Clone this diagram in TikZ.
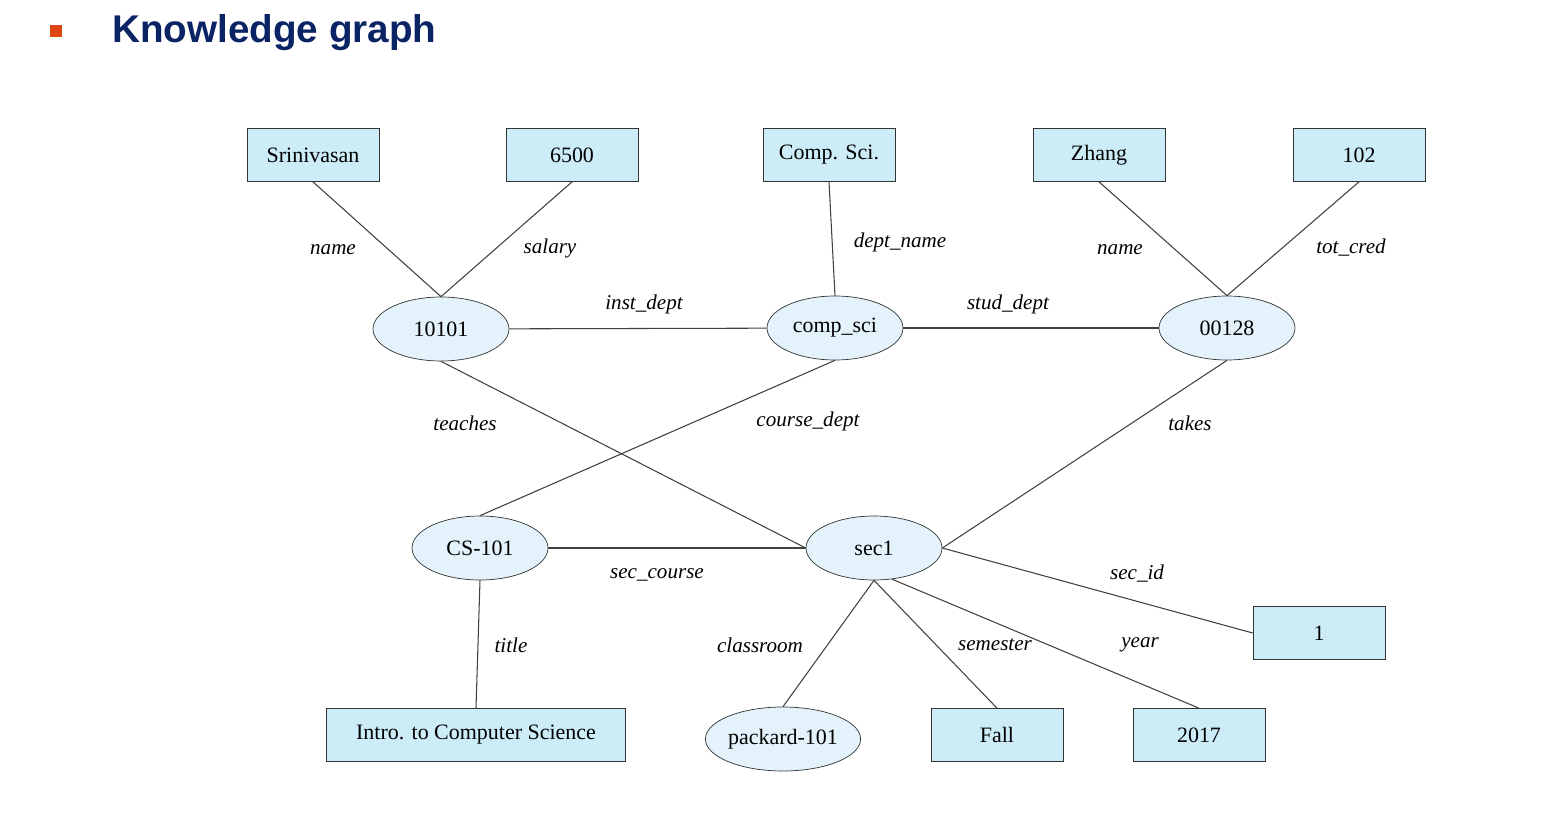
\documentclass[tikz,border=0pt]{standalone}
\usepackage{fontspec}
\setmainfont{Liberation Serif}
\newfontfamily\titlefont{Liberation Sans}
\usetikzlibrary{shapes.geometric}
\definecolor{boxblue}{RGB}{204,236,248}
\definecolor{ellblue}{RGB}{228,243,251}
\definecolor{navy}{RGB}{10,35,100}
\definecolor{bullet}{RGB}{222,70,20}
\tikzset{
  lit/.style={draw=black!80,fill=boxblue,minimum width=2.64cm,minimum height=1.06cm,
    inner sep=0pt,font=\fontsize{12.5}{14}\selectfont},
  ent/.style={ellipse,draw=black!80,fill=ellblue,minimum width=2.72cm,minimum height=1.28cm,
    inner sep=0pt,font=\fontsize{12.5}{14}\selectfont},
  rel/.style={font=\itshape\fontsize{12}{14}\selectfont},
  edge/.style={draw=black!75,line width=0.6pt}
}
\begin{document}
\begin{tikzpicture}[x=0.02cm,y=-0.02cm]
        \useasboundingbox (0,0) rectangle (1542,838);

        % title
        \fill[bullet] (50,25) rectangle (62,37);
        \node[anchor=west,text=navy,font=\titlefont\bfseries\fontsize{22}{26}\selectfont] (title) at (106,33) {Knowledge graph};

        % literal values
        \node[lit] (srini) at (313,155) {Srinivasan};
        \node[lit] (salval) at (572,155) {6500};
        \node[lit] (dname) at (829,155) {Comp. Sci.};
        \node[lit] (zhang) at (1099,155) {Zhang};
        \node[lit] (cred) at (1359,155) {102};
        \node[lit] (secid) at (1319,633) {1};
        \node[lit,minimum width=5.98cm] (intro) at (476,735) {Intro. to Computer Science};
        \node[lit] (fall) at (997,735) {Fall};
        \node[lit] (yr) at (1199,735) {2017};

        % entities
        \node[ent] (inst) at (441,329) {10101};
        \node[ent] (dept) at (835,328) {comp\_sci};
        \node[ent] (stud) at (1227,328) {00128};
        \node[ent] (course) at (480,548) {CS-101};
        \node[ent] (sec) at (874,548) {sec1};
        \node[ent] (room) at (783,739) {packard-101};

        % edges
        \draw[edge] (srini.south) -- (inst.north);
        \draw[edge] (salval.south) -- (inst.north);
        \draw[edge] (dname.south) -- (dept.north);
        \draw[edge] (zhang.south) -- (stud.north);
        \draw[edge] (cred.south) -- (stud.north);
        \draw[edge] (inst) -- (dept);
        \draw[edge] (dept) -- (stud);
        \draw[edge] (inst.south) -- (sec.west);
        \draw[edge] (dept.south) -- (course.north);
        \draw[edge] (stud.south) -- (sec.east);
        \draw[edge] (course) -- (sec);
        \draw[edge] (course.south) -- (intro.north);
        \draw[edge] (sec.south) -- (room.north);
        \draw[edge] (sec.south) -- (fall.north);
        \draw[edge] (sec.-60) -- (yr.north);
        \draw[edge] (sec.east) -- (secid.west);

        % edge labels
        \node[rel] (l1) at (333,250) {name};
        \node[rel] (l2) at (550,248) {salary};
        \node[rel] (l3) at (900,242) {dept\_name};
        \node[rel] (l4) at (1120,250) {name};
        \node[rel] (l5) at (1351,248) {tot\_cred};
        \node[rel] (l6) at (644,304) {inst\_dept};
        \node[rel] (l7) at (1008,304) {stud\_dept};
        \node[rel] (l8) at (465,423) {teaches};
        \node[rel] (l9) at (808,421) {course\_dept};
        \node[rel] (l10) at (1190,423) {takes};
        \node[rel] (l11) at (657,575) {sec\_course};
        \node[rel] (l12) at (1137,574) {sec\_id};
        \node[rel] (l13) at (511,645) {title};
        \node[rel] (l14) at (760,645) {classroom};
        \node[rel] (l15) at (995,645) {semester};
        \node[rel] (l16) at (1140,645) {year};
\end{tikzpicture}
\end{document}
